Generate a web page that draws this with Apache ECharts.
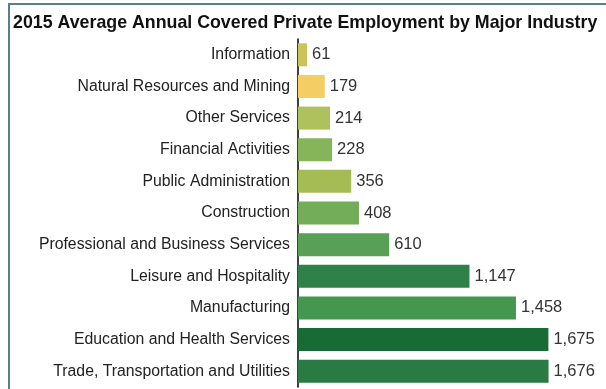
<!DOCTYPE html>
<html>
<head>
<meta charset="utf-8">
<script src="https://cdn.jsdelivr.net/npm/echarts@6/dist/echarts.min.js"></script>
<style>
  html, body { margin: 0; padding: 0; background: #fff; }
  #frame { position: absolute; left: 8px; top: 3px; width: 598px; height: 386px;
           border-left: 2px solid #5b7d93; border-top: 2px solid #5b7d93; box-sizing: border-box; }
  #main { position: absolute; left: 0; top: 0; width: 606px; height: 389px; }
</style>
</head>
<body>
<div id="frame"></div>
<div id="main"></div>
<script>
var industries = [
  'Information',
  'Natural Resources and Mining',
  'Other Services',
  'Financial Activities',
  'Public Administration',
  'Construction',
  'Professional and Business Services',
  'Leisure and Hospitality',
  'Manufacturing',
  'Education and Health Services',
  'Trade, Transportation and Utilities'
];
var employment = [61, 179, 214, 228, 356, 408, 610, 1147, 1458, 1675, 1676];
var barColors = [
  '#c9c35a', '#f4cd64', '#aec15c', '#86b45a', '#a5bc55', '#74ad57',
  '#57a056', '#2f8049', '#45974f', '#196b36', '#2a7a43'
];

var chartDom = document.getElementById('main');
var myChart = echarts.init(chartDom, null, { renderer: 'canvas' });
var option;

option = {
  backgroundColor: 'transparent',
  animation: false,
  title: {
    text: '2015 Average Annual Covered Private Employment by Major Industry',
    left: 8,
    top: 9,
    textStyle: {
      fontFamily: 'Liberation Sans',
      fontSize: 17.8,
      fontWeight: 'bold',
      color: '#111'
    }
  },
  grid: {
    left: 298,
    top: 39,
    bottom: 2,
    right: 9
  },
  xAxis: {
    type: 'value',
    min: 0,
    max: 2000,
    show: false
  },
  yAxis: {
    type: 'category',
    inverse: true,
    data: industries,
    axisLine: { show: true, lineStyle: { color: '#000', width: 1.5 } },
    axisTick: { show: false },
    axisLabel: {
      fontFamily: 'Liberation Sans',
      fontSize: 15.8,
      color: '#222',
      margin: 8
    }
  },
  series: [
    {
      type: 'bar',
      barWidth: 23,
      data: employment.map(function (v, i) {
        return { value: v, itemStyle: { color: barColors[i] } };
      }),
      label: {
        show: true,
        position: 'right',
        distance: 5,
        fontFamily: 'Liberation Sans',
        fontSize: 16.5,
        color: '#333',
        formatter: function (p) {
          return p.value.toLocaleString('en-US');
        }
      }
    }
  ]
};

option && myChart.setOption(option);
</script>
</body>
</html>
